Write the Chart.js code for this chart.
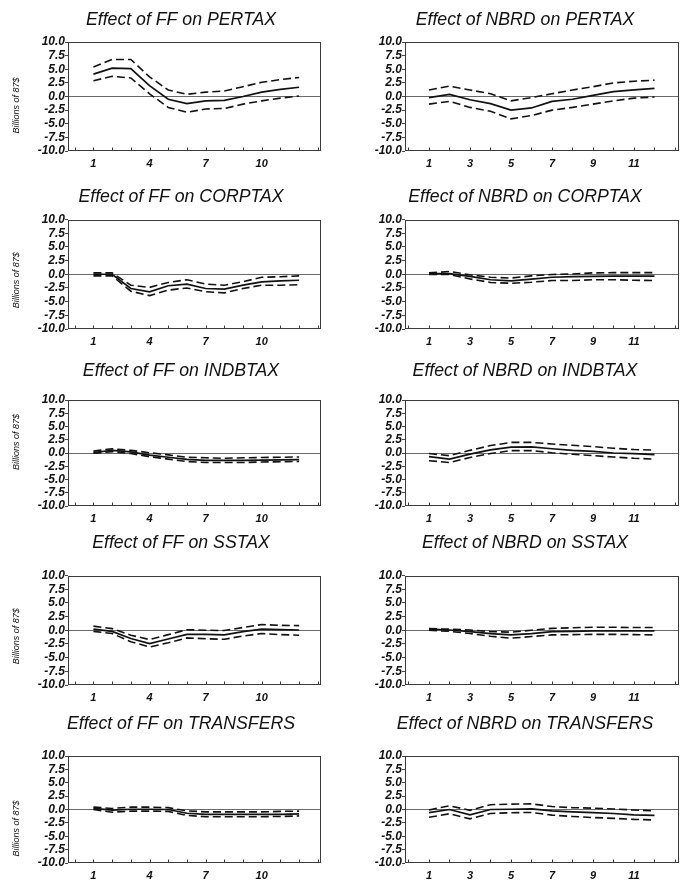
<!DOCTYPE html>
<html><head><meta charset="utf-8">
<script src="https://cdn.jsdelivr.net/npm/chart.js@4.4.0/dist/chart.umd.min.js"></script>
<style>
html,body{margin:0;padding:0;background:#fff;width:681px;height:880px;overflow:hidden;position:relative;}
.p{position:absolute;}
</style></head><body>
<script>
// ---------- data ----------
const shocks = ['FF', 'NBRD'];
const variables = ['PERTAX', 'CORPTAX', 'INDBTAX', 'SSTAX', 'TRANSFERS'];
const horizon = [1, 2, 3, 4, 5, 6, 7, 8, 9, 10, 11, 12];
const yTickValues = [-10, -7.5, -5, -2.5, 0, 2.5, 5, 7.5, 10];
const xTickLabelsFF = [1, 4, 7, 10];
const xTickLabelsNBRD = [1, 3, 5, 7, 9, 11];
const yAxisLabel = 'Billions of 87$';

const ffPertaxMid = [4.1, 5.2, 5.1, 2.0, -0.5, -1.3, -0.8, -0.7, 0.0, 0.8, 1.3, 1.7];
const ffPertaxUp  = [5.4, 6.8, 6.8, 3.6, 1.2, 0.4, 0.8, 1.0, 1.8, 2.6, 3.1, 3.5];
const ffPertaxLo  = [2.9, 3.7, 3.4, 0.5, -2.0, -2.9, -2.3, -2.2, -1.4, -0.8, -0.3, 0.1];

const nbrdPertaxMid = [-0.2, 0.4, -0.6, -1.3, -2.5, -2.1, -0.9, -0.5, 0.2, 0.9, 1.2, 1.5];
const nbrdPertaxUp  = [1.2, 1.9, 1.2, 0.5, -0.8, -0.2, 0.5, 1.2, 1.8, 2.5, 2.8, 3.0];
const nbrdPertaxLo  = [-1.4, -0.9, -2.0, -2.7, -4.1, -3.5, -2.5, -2.0, -1.4, -0.8, -0.3, -0.1];

const ffCorptaxMid = [0.0, 0.0, -2.6, -3.2, -2.1, -1.8, -2.6, -2.7, -2.0, -1.4, -1.2, -1.1];
const ffCorptaxUp  = [0.25, 0.25, -2.0, -2.4, -1.5, -1.0, -1.8, -2.0, -1.35, -0.55, -0.45, -0.3];
const ffCorptaxLo  = [-0.3, -0.3, -3.1, -3.9, -2.9, -2.5, -3.2, -3.4, -2.6, -2.0, -2.0, -1.9];

const nbrdCorptaxMid = [0.1, 0.1, -0.4, -1.0, -1.2, -0.9, -0.55, -0.45, -0.4, -0.35, -0.35, -0.35];
const nbrdCorptaxUp  = [0.25, 0.5, -0.1, -0.55, -0.7, -0.3, -0.05, 0.05, 0.25, 0.3, 0.3, 0.3];
const nbrdCorptaxLo  = [-0.05, -0.05, -0.85, -1.5, -1.65, -1.45, -1.15, -1.15, -1.0, -1.0, -1.1, -1.15];

const ffIndbtaxMid = [0.1, 0.5, 0.2, -0.4, -0.8, -1.2, -1.4, -1.4, -1.4, -1.35, -1.3, -1.25];
const ffIndbtaxUp  = [0.35, 0.8, 0.5, 0.05, -0.35, -0.8, -0.9, -1.0, -0.9, -0.85, -0.8, -0.75];
const ffIndbtaxLo  = [-0.05, 0.25, -0.1, -0.7, -1.15, -1.6, -1.8, -1.8, -1.8, -1.7, -1.65, -1.6];

const nbrdIndbtaxMid = [-0.7, -1.15, -0.2, 0.6, 1.1, 1.15, 0.8, 0.5, 0.3, 0.0, -0.1, -0.3];
const nbrdIndbtaxUp  = [-0.1, -0.5, 0.5, 1.4, 2.0, 2.0, 1.7, 1.45, 1.2, 0.9, 0.65, 0.55];
const nbrdIndbtaxLo  = [-1.45, -1.8, -0.85, -0.1, 0.45, 0.45, 0.05, -0.25, -0.5, -0.75, -1.0, -1.15];

const ffSstaxMid = [0.2, -0.2, -1.5, -2.45, -1.6, -0.75, -0.75, -0.85, -0.25, 0.2, 0.1, 0.05];
const ffSstaxUp  = [0.75, 0.3, -0.9, -1.7, -0.8, 0.1, 0.0, -0.05, 0.5, 1.05, 0.9, 0.85];
const ffSstaxLo  = [-0.2, -0.6, -2.1, -3.05, -2.3, -1.4, -1.55, -1.65, -1.05, -0.6, -0.8, -0.9];

const nbrdSstaxMid = [0.2, 0.05, -0.25, -0.6, -0.85, -0.6, -0.25, -0.2, -0.1, -0.1, -0.1, -0.1];
const nbrdSstaxUp  = [0.3, 0.2, 0.05, -0.25, -0.35, 0.0, 0.35, 0.45, 0.55, 0.55, 0.5, 0.5];
const nbrdSstaxLo  = [0.0, -0.2, -0.6, -1.1, -1.45, -1.15, -0.85, -0.8, -0.75, -0.75, -0.8, -0.85];

const ffTransfersMid = [0.2, -0.1, 0.05, 0.05, 0.0, -0.7, -0.9, -0.9, -0.9, -0.9, -0.9, -0.8];
const ffTransfersUp  = [0.45, 0.2, 0.45, 0.45, 0.35, -0.25, -0.45, -0.45, -0.45, -0.45, -0.35, -0.3];
const ffTransfersLo  = [0.0, -0.5, -0.3, -0.3, -0.35, -1.1, -1.35, -1.35, -1.35, -1.35, -1.3, -1.2];

const nbrdTransfersMid = [-0.6, 0.0, -1.0, 0.0, 0.05, 0.1, -0.25, -0.45, -0.6, -0.75, -1.0, -1.1];
const nbrdTransfersUp  = [-0.1, 0.7, -0.15, 0.9, 1.0, 1.05, 0.55, 0.35, 0.25, 0.1, -0.1, -0.25];
const nbrdTransfersLo  = [-1.45, -0.8, -1.75, -0.75, -0.6, -0.55, -1.05, -1.3, -1.5, -1.65, -1.85, -1.95];

const seriesTable = {
  FF: {
    PERTAX: [ffPertaxMid, ffPertaxUp, ffPertaxLo],
    CORPTAX: [ffCorptaxMid, ffCorptaxUp, ffCorptaxLo],
    INDBTAX: [ffIndbtaxMid, ffIndbtaxUp, ffIndbtaxLo],
    SSTAX: [ffSstaxMid, ffSstaxUp, ffSstaxLo],
    TRANSFERS: [ffTransfersMid, ffTransfersUp, ffTransfersLo]
  },
  NBRD: {
    PERTAX: [nbrdPertaxMid, nbrdPertaxUp, nbrdPertaxLo],
    CORPTAX: [nbrdCorptaxMid, nbrdCorptaxUp, nbrdCorptaxLo],
    INDBTAX: [nbrdIndbtaxMid, nbrdIndbtaxUp, nbrdIndbtaxLo],
    SSTAX: [nbrdSstaxMid, nbrdSstaxUp, nbrdSstaxLo],
    TRANSFERS: [nbrdTransfersMid, nbrdTransfersUp, nbrdTransfersLo]
  }
};

// ---------- layout (styling only) ----------
const ROWS = [
  {tc: 20, bt: 42, bb: 151, ylOff: 9},
  {tc: 197, bt: 219.5, bb: 328.5, ylOff: 6},
  {tc: 371, bt: 400, bb: 506, ylOff: -11},
  {tc: 543.5, bt: 575.5, bb: 685, ylOff: 6},
  {tc: 724, bt: 756, bb: 862.5, ylOff: 19}
];
const COLS = [
  {left: 0, width: 362, axisW: 68, padRight: 41, xmin: -0.36, xmax: 13.17, xlabels: xTickLabelsFF, ylabel: true},
  {left: 369, width: 312, axisW: 36, padRight: 1, xmin: -0.17, xmax: 13.2, xlabels: xTickLabelsNBRD, ylabel: false}
];
const FONT = '"Liberation Sans", Arial, Helvetica, sans-serif';
const TITLE_SIZE = 17.7;

const framePlugin = {
  id: 'frame',
  afterDraw(chart, args, opts) {
    const {ctx, chartArea: a} = chart;
    const xs = chart.scales.x;
    ctx.save();
    ctx.strokeStyle = '#3a3a3a';
    ctx.lineWidth = 1;
    const L = Math.round(a.left) + 0.5, T = Math.round(a.top) + 0.5;
    const R = Math.round(a.right) - 0.5, B = Math.round(a.bottom) - 0.5;
    ctx.strokeRect(L, T, R - L, B - T);
    // small inward ticks along the bottom edge at every unit
    ctx.beginPath();
    for (let v = Math.ceil(xs.min); v <= Math.floor(xs.max); v++) {
      const px = Math.round(xs.getPixelForValue(v)) + 0.5;
      ctx.moveTo(px, B); ctx.lineTo(px, B - 3);
    }
    ctx.stroke();
    if (opts.label) {
      ctx.translate(16, (a.top + a.bottom) / 2 + opts.offset);
      ctx.rotate(-Math.PI / 2);
      ctx.font = 'italic 9px ' + FONT;
      ctx.textAlign = 'center';
      ctx.textBaseline = 'middle';
      ctx.fillStyle = '#111';
      ctx.fillText(opts.label, 0, 0);
    }
    ctx.restore();
  }
};

function makeChart(ci, ri) {
  const col = COLS[ci], row = ROWS[ri];
  const shock = shocks[ci], variable = variables[ri];
  const [mid, up, lo] = seriesTable[shock][variable];
  const ct = Math.round(row.tc - 14);
  const h = Math.round(row.bb) - ct + 24;
  const lh = TITLE_SIZE * 1.2;
  const padTop = row.tc - ct - lh / 2;
  const padBottom = row.bt - ct - padTop - lh;

  const div = document.createElement('div');
  div.className = 'p';
  div.style.left = col.left + 'px';
  div.style.top = ct + 'px';
  const cv = document.createElement('canvas');
  cv.width = col.width; cv.height = h;
  cv.style.width = col.width + 'px'; cv.style.height = h + 'px';
  div.appendChild(cv);
  document.body.appendChild(div);

  const pts = arr => horizon.map((x, i) => ({x: x, y: arr[i]}));
  const lineBase = {pointRadius: 0, tension: 0, borderColor: '#111', fill: false, yAxisID: 'y'};
  const xTickVals = [];
  for (let v = Math.ceil(col.xmin); v <= Math.floor(col.xmax); v++) xTickVals.push(v);

  new Chart(cv, {
    type: 'line',
    data: {
      datasets: [
        Object.assign({label: shock + ' on ' + variable, data: pts(mid), borderWidth: 1.7}, lineBase),
        Object.assign({label: 'upper band', data: pts(up), borderWidth: 1.6, borderDash: [8, 4]}, lineBase),
        Object.assign({label: 'lower band', data: pts(lo), borderWidth: 1.6, borderDash: [8, 4]}, lineBase)
      ]
    },
    options: {
      responsive: false,
      animation: false,
      devicePixelRatio: 1,
      layout: {padding: 0},
      plugins: {
        legend: {display: false},
        tooltip: {enabled: false},
        title: {
          display: true,
          text: 'Effect of ' + shock + ' on ' + variable,
          color: '#111',
          font: {family: FONT, size: TITLE_SIZE, style: 'italic', weight: 'normal'},
          padding: {top: padTop, bottom: padBottom}
        },
        frame: {label: col.ylabel ? yAxisLabel : '', offset: row.ylOff}
      },
      scales: {
        x: {
          type: 'linear',
          min: col.xmin, max: col.xmax,
          afterBuildTicks: s => { s.ticks = xTickVals.map(v => ({value: v})); },
          afterFit: s => { s.height = 24; },
          border: {display: false},
          grid: {drawOnChartArea: false, drawTicks: false},
          ticks: {
            autoSkip: false, maxRotation: 0, padding: 6, color: '#111',
            font: {family: FONT, size: 11, style: 'italic', weight: 'bold'},
            callback: v => col.xlabels.includes(v) ? String(v) : ''
          }
        },
        y: {
          type: 'linear',
          position: 'left',
          min: -10, max: 10,
          afterBuildTicks: s => { s.ticks = yTickValues.map(v => ({value: v})); },
          afterFit: s => { s.width = col.axisW; },
          border: {display: false},
          grid: {
            drawOnChartArea: true, drawTicks: true, tickLength: 3, tickColor: '#444',
            color: c => (c.tick && c.tick.value === 0) ? '#6a6a6a' : 'rgba(0,0,0,0)',
            lineWidth: 1
          },
          ticks: {
            autoSkip: false, padding: 0, color: '#111',
            font: {family: FONT, size: 12, style: 'italic', weight: 'bold'},
            callback: v => v.toFixed(1)
          }
        },
        yR: {
          type: 'linear',
          position: 'right',
          min: -10, max: 10,
          afterFit: s => { s.width = col.padRight; },
          border: {display: false},
          grid: {display: false, drawTicks: false},
          ticks: {display: false}
        }
      }
    },
    plugins: [framePlugin]
  });
}

for (let r = 0; r < variables.length; r++) {
  for (let c = 0; c < shocks.length; c++) makeChart(c, r);
}
</script>
</body></html>
